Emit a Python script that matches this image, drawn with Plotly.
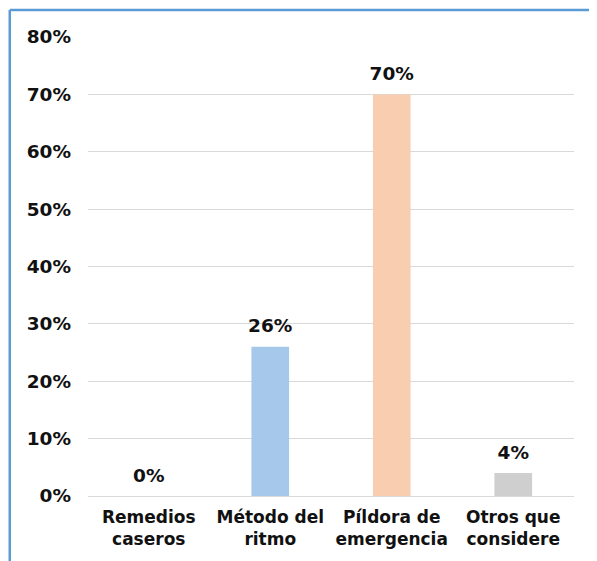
import plotly.graph_objects as go

# Datos
categorias = ["Remedios<br>caseros", "Método del<br>ritmo", "Píldora de<br>emergencia", "Otros que<br>considere"]
valores = [0, 26, 70, 4]
etiquetas = ["0%", "26%", "70%", "4%"]
colores = ["#9DC3E6", "#A6C8EA", "#F8CDB0", "#CFCFCF"]

fuente = "DejaVu Sans, Verdana, sans-serif"

fig = go.Figure()

fig.add_trace(go.Bar(
    x=categorias,
    y=valores,
    marker=dict(color=colores, line=dict(width=0)),
    width=0.31,
))

# Etiquetas de datos sobre las barras
fig.add_trace(go.Scatter(
    x=categorias,
    y=valores,
    mode="markers+text",
    marker=dict(size=14, opacity=0),
    text=etiquetas,
    textposition="top center",
    textfont=dict(family=fuente, size=18.5, color="#111111", weight="bold"),
    cliponaxis=False,
    hoverinfo="skip",
))

fig.update_layout(
    width=589,
    height=553,
    margin=dict(l=80, r=23, t=29, b=58),
    paper_bgcolor="white",
    plot_bgcolor="white",
    showlegend=False,
    font=dict(family=fuente, size=16, color="#111111", weight="bold"),
    xaxis=dict(
        showgrid=False,
        showline=False,
        ticks="",
        ticklabelstandoff=9,
        tickfont=dict(family=fuente, size=17, color="#111111", weight="bold"),
    ),
    yaxis=dict(
        range=[0, 80],
        dtick=10,
        ticksuffix="%",
        showgrid=True,
        gridcolor="#D9D9D9",
        gridwidth=1,
        zeroline=True,
        zerolinecolor="#D9D9D9",
        zerolinewidth=1,
        ticks="",
        ticklabelstandoff=16,
        tickfont=dict(family=fuente, size=18.5, color="#111111", weight="bold"),
    ),
    # Borde azul del gráfico
    shapes=[
        dict(type="line", xref="paper", yref="paper", x0=-0.161, x1=-0.161, y0=-0.2, y1=1.059,
             line=dict(color="#5B9BD5", width=2.5)),
        dict(type="line", xref="paper", yref="paper", x0=-0.161, x1=1.1, y0=1.059, y1=1.059,
             line=dict(color="#5B9BD5", width=2.5)),
    ],
)

fig.write_html("out.html", config={"displayModeBar": False})
